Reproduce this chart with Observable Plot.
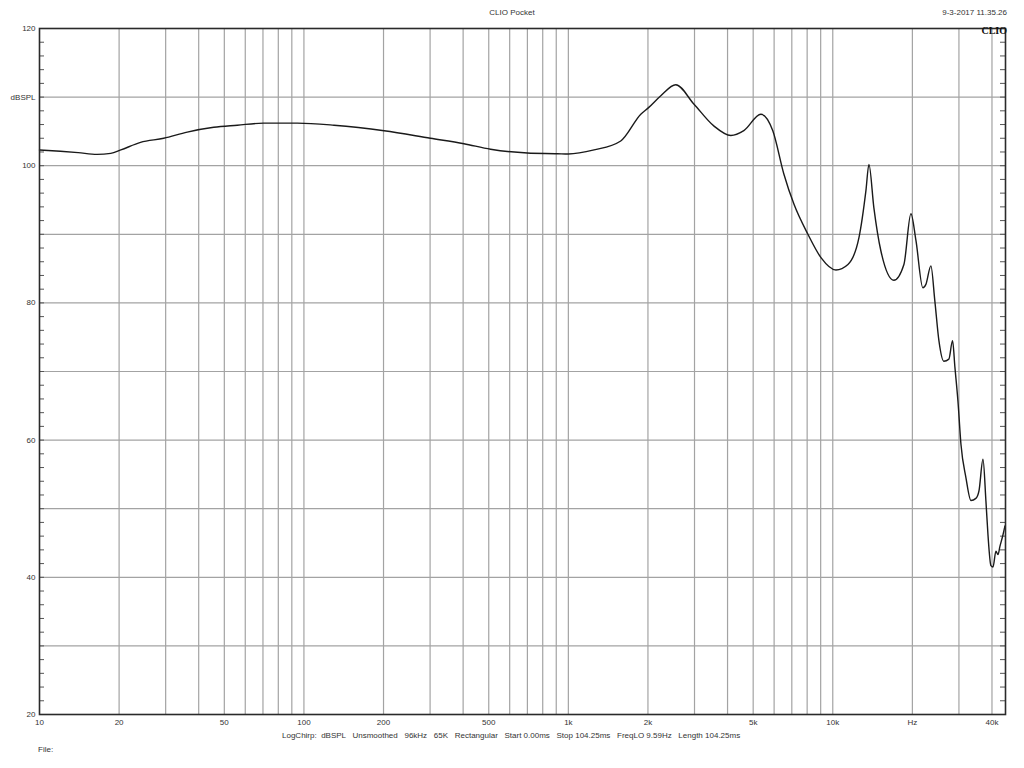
<!DOCTYPE html>
<html><head><meta charset="utf-8">
<script src="https://cdn.jsdelivr.net/npm/d3@7"></script>
<script src="https://cdn.jsdelivr.net/npm/@observablehq/plot@0.6"></script>
<style>
body{margin:0;background:#fff;font-family:"Liberation Sans",Arial,sans-serif;}
#wrap{position:relative;width:1024px;height:768px;overflow:hidden;}
#chart{position:absolute;left:0;top:0;}
.t{position:absolute;font-size:8px;color:#333;white-space:pre;line-height:1;}
</style></head><body>
<div id="wrap">
<div id="chart"></div>
<div class="t" style="left:0;width:1024px;text-align:center;top:9px;">CLIO Pocket</div>
<div class="t" style="right:17px;top:9px;">9-3-2017 11.35.26</div>
<div class="t" style="right:17px;top:26px;font-family:'Liberation Serif',serif;font-weight:bold;color:#111;font-size:10px;">CLIO</div>
<div class="t" style="left:282px;top:732px;">LogChirp:  dBSPL   Unsmoothed   96kHz   65K   Rectangular   Start 0.00ms   Stop 104.25ms   FreqLO 9.59Hz   Length 104.25ms</div>
<div class="t" style="left:38px;top:746px;">File:</div>
</div>
<script>
// Frequency response (Hz, dB SPL)
const freqHz = [10, 12, 14, 16.5, 18.6, 20.3, 24.1, 29.5, 36.2, 45.6, 56.0, 70.4, 94.4, 130, 201, 301, 403, 508, 700, 909, 1000, 1251, 1578, 1879, 2015, 2237, 2548, 2982, 3548, 4116, 4609, 5346, 5932, 6531, 7129, 8054, 9023, 10280, 11410, 12560, 13350, 13700, 14300, 15200, 17020, 18580, 19750, 20630, 21920, 22500, 23500, 24320, 25200, 26300, 27480, 28380, 28970, 29740, 30530, 31890, 33310, 34770, 35720, 36990, 37950, 38630, 39640, 40350, 41410, 42150, 42870, 44030, 44790];
const splDb = [102.3, 102.1, 101.9, 101.65, 101.8, 102.3, 103.4, 104.0, 104.9, 105.6, 105.9, 106.2, 106.2, 105.9, 105.1, 104.0, 103.2, 102.4, 101.85, 101.75, 101.7, 102.3, 103.6, 107.5, 108.5, 110.2, 111.8, 109.0, 105.8, 104.4, 105.1, 107.5, 105.1, 98.8, 94.4, 90.0, 86.6, 84.8, 85.6, 89.5, 96.4, 100.2, 93.9, 87.6, 83.3, 85.6, 93.0, 89.1, 82.2, 82.7, 85.4, 80.3, 74.5, 71.5, 71.8, 74.5, 70.6, 65.7, 59.4, 54.5, 51.2, 51.5, 52.6, 57.2, 51.1, 46.2, 41.7, 41.5, 43.8, 43.3, 44.5, 46.2, 47.5];

const xTickValues = [10, 20, 50, 100, 200, 500, 1000, 2000, 5000, 10000, 20000, 40000];
const xTickLabels = ["10", "20", "50", "100", "200", "500", "1k", "2k", "5k", "10k", "Hz", "40k"];
const gridFreqs = [20,30,40,50,60,70,80,90,100,200,300,400,500,600,700,800,900,1000,2000,3000,4000,5000,6000,7000,8000,9000,10000,20000,30000,40000];
const gridDb = [20,30,40,50,60,70,80,90,100,110,120];
const yLabelTicks = [20,40,60,80,100,110,120];
const yLabelText = ["20","40","60","80","100","dBSPL","120"];
const minorDb = d3.range(20, 121, 2);

const W = 1024, H = 768, mL = 39, mR = 19, mT = 28, mB = 54;
const frameW = W - mL - mR;
const tickLen = 5;

const data = freqHz.map((f, i) => ({f, db: splDb[i]}));
const gridColor = "#a3a3a3";

const chart = Plot.plot({
  width: W,
  height: H,
  marginLeft: mL,
  marginRight: mR,
  marginTop: mT,
  marginBottom: mB,
  style: {fontFamily: "'Liberation Sans', Arial, sans-serif", fontSize: "8px", color: "#333", background: "white"},
  x: {type: "log", domain: [10, 45000], axis: null},
  y: {domain: [20, 120], axis: null},
  marks: [
    Plot.ruleX(gridFreqs, {stroke: gridColor, strokeWidth: 1.2}),
    Plot.ruleY(gridDb, {stroke: gridColor, strokeWidth: 1.2}),
    Plot.tickY(minorDb, {y: d => d, insetRight: frameW - tickLen, stroke: "#555"}),
    Plot.tickY(minorDb, {y: d => d, insetLeft: frameW - tickLen, stroke: "#555"}),
    Plot.text(yLabelTicks, {y: d => d, text: (d, i) => yLabelText[i], frameAnchor: "left", textAnchor: "end", dx: -4, fill: "#333"}),
    Plot.text(xTickValues, {x: d => d, text: (d, i) => xTickLabels[i], frameAnchor: "bottom", lineAnchor: "top", dy: 5, fill: "#333"}),
    Plot.line(data, {x: "f", y: "db", stroke: "#1a1a1a", strokeWidth: 1.4, curve: "monotone-x"}),
    Plot.frame({stroke: "#2a2a2a", strokeWidth: 1.6})
  ]
});
document.getElementById("chart").appendChild(chart);
</script>
</body></html>
